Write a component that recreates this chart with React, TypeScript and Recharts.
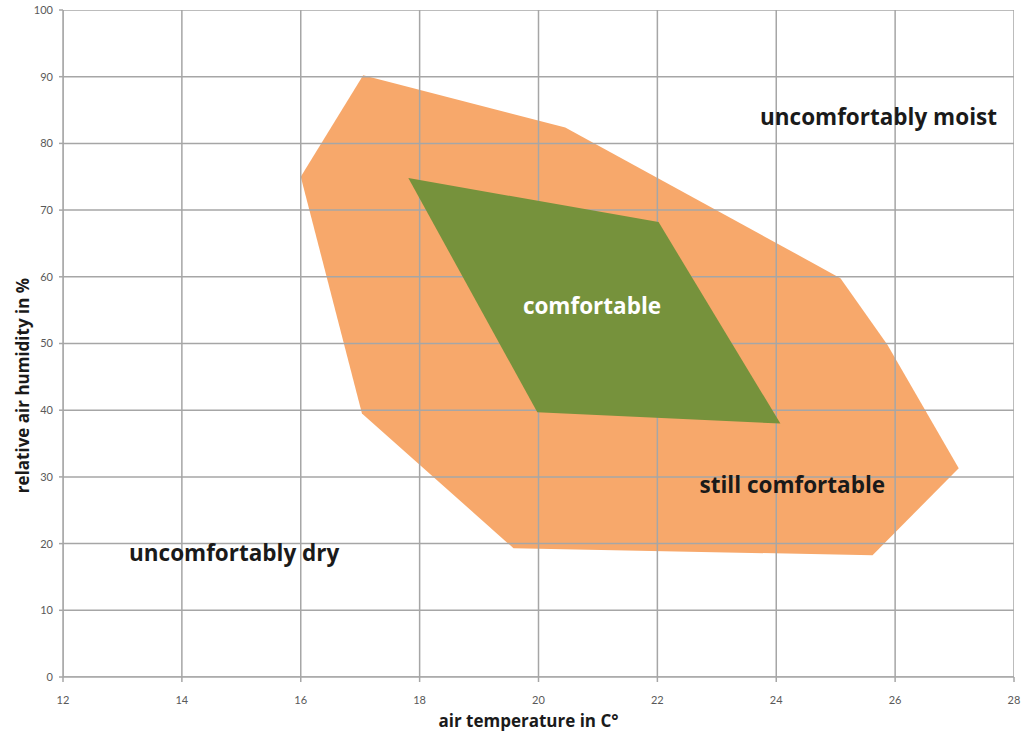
import React from 'react';
import { ScatterChart, Scatter, XAxis, YAxis } from 'recharts';

const stillX = [17.05, 20.45, 25.08, 25.87, 27.07, 25.62, 19.58, 17.03, 16.0];
const stillY = [90.2, 82.4, 59.8, 49.8, 31.3, 18.25, 19.3, 39.5, 75.0];

const comfX = [17.81, 22.02, 24.07, 19.98];
const comfY = [74.8, 68.2, 38.0, 39.7];

const labelText = ['uncomfortably moist', 'comfortable', 'still comfortable', 'uncomfortably dry'];
const labelX = [25.72, 20.9, 24.27, 14.88];
const labelY = [84.1, 55.7, 28.9, 18.6];
const labelColor = ['#1a1a1a', '#ffffff', '#1a1a1a', '#1a1a1a'];

const xTicks = [12, 14, 16, 18, 20, 22, 24, 26, 28];
const yTicks = [0, 10, 20, 30, 40, 50, 60, 70, 80, 90, 100];

const X_MIN = 12;
const X_MAX = 28;
const Y_MIN = 0;
const Y_MAX = 100;

const stillData = stillX.map((x, i) => ({ x, y: stillY[i] }));
const comfData = comfX.map((x, i) => ({ x, y: comfY[i] }));
const labelData = labelText.map((t, i) => ({ x: labelX[i], y: labelY[i], t, c: labelColor[i] }));
const gridData = [
  ...xTicks.flatMap((t) => [{ x: t, y: Y_MIN }, { x: t, y: Y_MAX }]),
  ...yTicks.flatMap((t) => [{ x: X_MIN, y: t }, { x: X_MAX, y: t }]),
];
// orange region followed by grid segment endpoints (grid is drawn over the orange region)
const stillWithGrid = [...stillData, ...gridData];

const FONT = '"Open Sans", Lato, sans-serif';
const TICK_FONT = 'Lato, "Open Sans", sans-serif';
const GRID = '#a6a6a6';
const ORANGE = '#f7a86b';
const GREEN = '#76923c';

const polygonWithGrid = (props: any) => {
  const p = props.points || [];
  const n = stillData.length;
  const poly = p.slice(0, n).map((q: any) => `${q.x},${q.y}`).join(' ');
  const g = p.slice(n);
  let d = '';
  for (let i = 0; i + 1 < g.length; i += 2) {
    d += `M${g[i].x},${g[i].y}L${g[i + 1].x},${g[i + 1].y}`;
  }
  return (
    <g>
      <polygon points={poly} fill={ORANGE} stroke="none" />
      <path d={d} stroke={GRID} strokeWidth={1.5} fill="none" />
    </g>
  );
};

const polygon = (fill: string) => (props: any) => {
  const pts = (props.points || []).map((q: any) => `${q.x},${q.y}`).join(' ');
  return <polygon points={pts} fill={fill} stroke="none" />;
};

const noShape = () => <g />;

const textShape = (props: any) => {
  const { cx, cy, payload } = props;
  return (
    <text
      x={cx}
      y={cy}
      textAnchor="middle"
      dominantBaseline="central"
      fontFamily={FONT}
      fontWeight="bold"
      fontSize={22.5}
      fill={payload.c}
    >
      {payload.t}
    </text>
  );
};

const xTitle = (props: any) => {
  const vb = props.viewBox;
  return (
    <text
      x={vb.x + vb.width / 2 - 10}
      y={720}
      textAnchor="middle"
      dominantBaseline="central"
      fontFamily={FONT}
      fontWeight="bold"
      fontSize={17}
      fill="#1a1a1a"
    >
      air temperature in C°
    </text>
  );
};

const yTitle = (props: any) => {
  const vb = props.viewBox;
  const cy = vb.y + vb.height / 2 + 42;
  return (
    <text
      x={22}
      y={cy}
      transform={`rotate(-90 22 ${cy})`}
      textAnchor="middle"
      dominantBaseline="central"
      fontFamily={FONT}
      fontWeight="bold"
      fontSize={17}
      fill="#1a1a1a"
    >
      relative air humidity in %
    </text>
  );
};

export default function App() {
  return (
    <div style={{ position: 'absolute', left: 0, top: 0, width: 1023, height: 734, background: '#fff' }}>
      <ScatterChart width={1023} height={734} margin={{ top: 10, right: 9, left: 0, bottom: 0 }}>
        <XAxis
          type="number"
          dataKey="x"
          domain={[X_MIN, X_MAX]}
          ticks={xTicks}
          allowDataOverflow
          height={57}
          stroke={GRID}
          strokeWidth={1.5}
          tickSize={5}
          tickMargin={14}
          tick={{ fill: '#595959', fontSize: 11, fontFamily: TICK_FONT }}
          label={{ content: xTitle }}
        />
        <YAxis
          type="number"
          dataKey="y"
          domain={[Y_MIN, Y_MAX]}
          ticks={yTicks}
          allowDataOverflow
          width={63}
          stroke={GRID}
          strokeWidth={1.5}
          tickSize={4}
          tickMargin={6}
          tick={{ fill: '#595959', fontSize: 11, fontFamily: TICK_FONT }}
          label={{ content: yTitle }}
        />
        <Scatter
          name="still"
          data={stillWithGrid}
          line={polygonWithGrid}
          shape={noShape}
          isAnimationActive={false}
        />
        <Scatter
          name="comf"
          data={comfData}
          line={polygon(GREEN)}
          shape={noShape}
          isAnimationActive={false}
        />
        <Scatter name="labels" data={labelData} shape={textShape} isAnimationActive={false} />
      </ScatterChart>
    </div>
  );
}
